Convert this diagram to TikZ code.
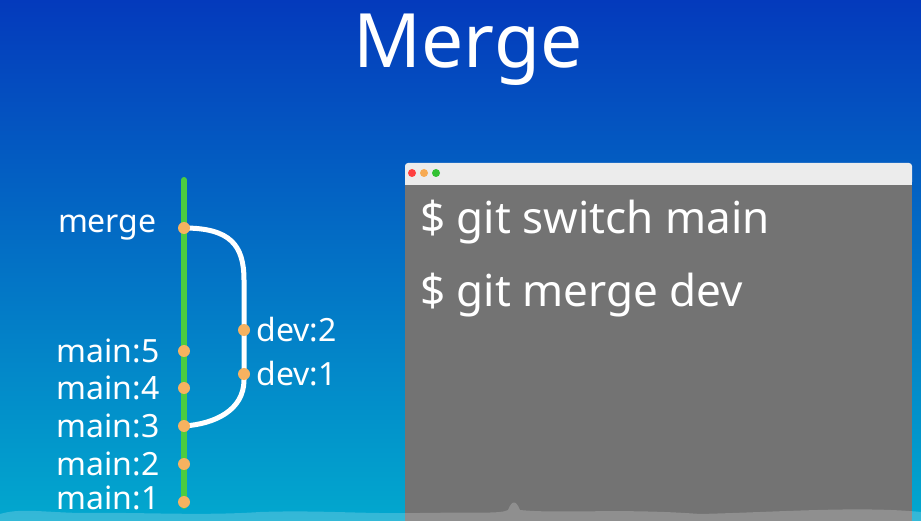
\documentclass[tikz,border=0pt]{standalone}
\usepackage{fontspec}
\setmainfont{Noto Sans}
\usetikzlibrary{positioning}
\definecolor{skytop}{RGB}{4,58,188}
\definecolor{skybot}{RGB}{2,168,206}
\definecolor{trunk}{RGB}{76,204,64}
\definecolor{commit}{RGB}{246,178,96}
\definecolor{termbody}{RGB}{115,115,115}
\definecolor{termbar}{RGB}{236,236,236}
\tikzset{
  dot/.style={circle,fill=commit,inner sep=0pt,minimum size=12pt},
  lbl/.style={text=white,font=\fontsize{32}{32}\selectfont,inner sep=0pt},
  cmd/.style={text=white,font=\fontsize{44}{44}\selectfont,anchor=west,inner sep=0pt},
}
\begin{document}
\begin{tikzpicture}[x=1pt,y=-1pt]
  \useasboundingbox (0,0) rectangle (921,521);
  \shade[top color=skytop,bottom color=skybot] (0,0) rectangle (921,521);
  % title
  \node[text=white,font=\fontsize{75}{75}\selectfont] (title) at (468,50) {Merge};
  % terminal
  \fill[termbody] (405,178) rectangle (912,521);
  \fill[termbar,rounded corners=3pt] (405,163) rectangle (912,185);
  \fill[termbar] (405,178) rectangle (912,185);
  \fill[red!75!white] (412,173) circle (4);
  \fill[commit!85!orange] (424,173) circle (4);
  \fill[green!70!black!80!white] (436,173) circle (4);
  \node[cmd] (sw) at (420,222) {\$ git switch main};
  \node[cmd] (mg) at (420,295) {\$ git merge dev};
  % bottom haze
  \fill[white,opacity=0.2] (0,521) -- (0,514) .. controls (20,508) and (40,512) .. (80,513)
    .. controls (140,512) and (200,516) .. (260,512) .. controls (320,510) and (360,514) .. (420,513)
    .. controls (480,512) and (500,514) .. (508,510) .. controls (512,500) and (516,500) .. (520,510)
    .. controls (560,514) and (620,508) .. (700,514) .. controls (780,512) and (860,506) .. (921,512)
    -- (921,521) -- cycle;
  % commits
  \coordinate (top) at (184,180);
  \coordinate (bot) at (184,506);
  \draw[trunk,line width=6pt,line cap=round] (top) -- (bot);
  \draw[white,line width=5pt,line cap=round] (184,228) .. controls (230,228) and (244,245) .. (244,280)
    -- (244,380) .. controls (244,410) and (215,424) .. (184,426);
  \node[dot] (merge) at (184,228) {};
  \node[dot] (main5) at (184,351) {};
  \node[dot] (main4) at (184,388) {};
  \node[dot] (main3) at (184,426) {};
  \node[dot] (main2) at (184,464) {};
  \node[dot] (main1) at (184,502) {};
  \node[dot] (dev2) at (244,330) {};
  \node[dot] (dev1) at (244,374) {};
  \node[lbl,left=21pt of merge] {merge};
  \foreach \n/\t in {main5/main:5,main4/main:4,main3/main:3,main2/main:2}
    \node[lbl,left=18pt of \n] {\t};
  \node[lbl,left=18pt of main1,yshift=4pt] {main:1};
  \node[lbl,right=6pt of dev2] {dev:2};
  \node[lbl,right=6pt of dev1] {dev:1};
\end{tikzpicture}
\end{document}
